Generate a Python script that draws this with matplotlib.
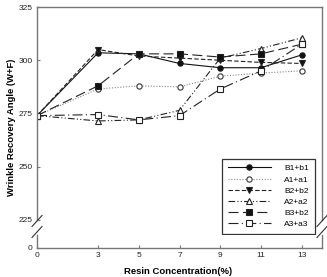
import matplotlib
matplotlib.use("Agg")
import matplotlib.pyplot as plt
from matplotlib.lines import Line2D

plt.rcParams['font.family'] = ['Liberation Sans', 'DejaVu Sans']

# data
conc = [0, 3, 5, 7, 9, 11, 13]
labels = ['B1+b1', 'A1+a1', 'B2+b2', 'A2+a2', 'B3+b2', 'A3+a3']
b1 = [274, 303.5, 303, 298.5, 296.5, 296.5, 302.5]
a1 = [274, 286.5, 288, 287.5, 292.5, 294, 295]
b2 = [274, 305, 302, 301, 300, 299, 298.5]
a2 = [274, 271.5, 272, 276.5, 301, 305.5, 310.5]
b3 = [274, 288, 303, 303, 301.5, 303, 307.5]
a3 = [274, 274.5, 272, 274, 286.5, 295, 307.5]
series = [b1, a1, b2, a2, b3, a3]

styles = [
    dict(color='#111111', ls='-', marker='o', mfc='#111111'),
    dict(color='#888888', ls=(0, (1, 1.5)), marker='o', mfc='white', mec='#333333'),
    dict(color='#222222', ls=(0, (4, 2)), marker='v', mfc='#111111'),
    dict(color='#222222', ls=(0, (6, 2, 1, 2, 1, 2)), marker='^', mfc='white'),
    dict(color='#222222', ls=(0, (9, 4)), marker='s', mfc='#111111'),
    dict(color='#222222', ls=(0, (9, 3, 1, 3)), marker='s', mfc='white'),
]

W, H = 327, 277
fig = plt.figure(figsize=(W / 100, H / 100), dpi=100)
L, R = 37, 322
ax = fig.add_axes([L / W, (H - 220) / H, (R - L) / W, 213 / H])
axb = fig.add_axes([L / W, (H - 248) / H, (R - L) / W, 13 / H])

spine_c = '#777777'
for a in (ax, axb):
    a.set_xlim(0, 14)
    for s in a.spines.values():
        s.set_color(spine_c)
        s.set_linewidth(1.0)
    a.tick_params(direction='in', length=2.5, width=0.8, color=spine_c,
                  labelsize=6, labelcolor='#222222', pad=3)

ax.spines['bottom'].set_visible(False)
axb.spines['top'].set_visible(False)
ax.set_ylim(225, 325)
ax.set_yticks([225, 250, 275, 300, 325])
ax.set_xticks([])
axb.set_ylim(0, 10)
axb.set_yticks([0])
axb.set_xticks(conc)

for ys, lab, st in zip(series, labels, styles):
    ax.plot(conc, ys, label=lab, lw=0.8, ms=3.8, mew=0.8,
            mec=st.pop('mec', st['color']), **st)

# break marks on both spines
for xs in (L, R):
    for yc in (221, 232):
        fig.add_artist(Line2D([(xs - 5) / W, (xs + 5) / W],
                              [(H - yc - 5.5) / H, (H - yc + 5.5) / H],
                              color='#333333', lw=0.8))

leg = ax.legend(loc='lower right', bbox_to_anchor=(315 / W, (H - 234) / H),
                bbox_transform=fig.transFigure, fontsize=6, handlelength=5.2,
                handletextpad=1.6, labelspacing=0.4, borderpad=0.7,
                borderaxespad=0, fancybox=False, framealpha=1)
leg.get_frame().set_edgecolor('#333333')
leg.get_frame().set_linewidth(0.9)

fig.text(12 / W, (H - 127) / H, 'Wrinkle Recovery Angle (W+F)', rotation=90,
         ha='center', va='center', fontsize=6.8, fontweight='bold')
fig.text(178 / W, (H - 272) / H, 'Resin Concentration(%)', ha='center',
         va='center', fontsize=6.8, fontweight='bold')

fig.savefig('out.png', dpi=100)
